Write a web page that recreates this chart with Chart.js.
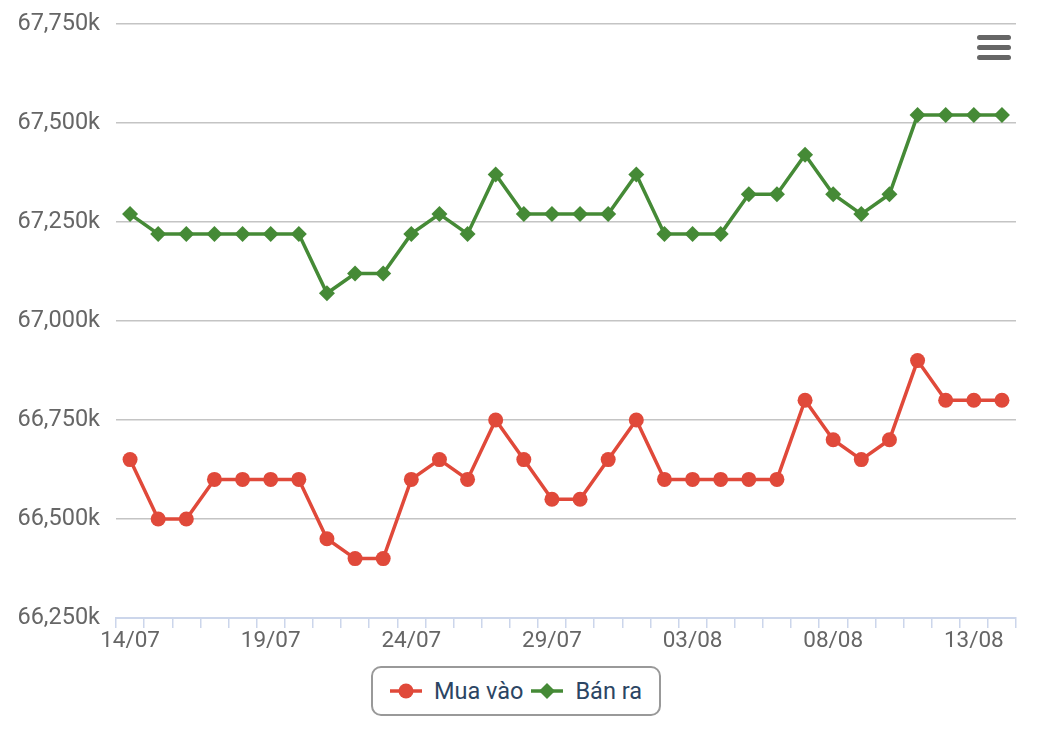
<!DOCTYPE html>
<html>
<head>
<meta charset="utf-8">
<script src="https://cdn.jsdelivr.net/npm/chart.js@4"></script>
<style>
  html, body { margin: 0; padding: 0; background: #fff; }
  #wrap { position: relative; width: 1048px; height: 734px; font-family: Roboto, sans-serif; }
  #chart-box { position: absolute; left: 0; top: 0; width: 1048px; height: 660px; }
  .menu { position: absolute; left: 977px; top: 35px; width: 34px; }
  .menu span { display: block; height: 5px; margin-bottom: 5px; border-radius: 3px; background: #666; }
  .legend {
    position: absolute; left: 371px; top: 666px; width: 286px; height: 46px;
    border: 2px solid #999; border-radius: 10px; box-sizing: content-box;
    display: flex; align-items: center; justify-content: center; gap: 8px;
  }
  .legend .item { display: flex; align-items: center; gap: 12px; color: #2b4563; font-size: 23.5px; }
</style>
</head>
<body>
<div id="wrap">
  <div id="chart-box"><canvas id="chart-price"></canvas></div>
  <div class="menu"><span></span><span></span><span></span></div>
  <div class="legend" id="legend"></div>
</div>
<script>
/* ── 데이터 ── */
const dates = [
  '14/07','15/07','16/07','17/07','18/07','19/07','20/07','21/07','22/07','23/07',
  '24/07','25/07','26/07','27/07','28/07','29/07','30/07','31/07','01/08','02/08',
  '03/08','04/08','05/08','06/08','07/08','08/08','09/08','10/08','11/08','12/08',
  '13/08','14/08'
];
const muaVao = [
  66650, 66500, 66500, 66600, 66600, 66600, 66600, 66450, 66400, 66400,
  66600, 66650, 66600, 66750, 66650, 66550, 66550, 66650, 66750, 66600,
  66600, 66600, 66600, 66600, 66800, 66700, 66650, 66700, 66900, 66800,
  66800, 66800
];
const banRa = [
  67270, 67220, 67220, 67220, 67220, 67220, 67220, 67070, 67120, 67120,
  67220, 67270, 67220, 67370, 67270, 67270, 67270, 67270, 67370, 67220,
  67220, 67220, 67320, 67320, 67420, 67320, 67270, 67320, 67520, 67520,
  67520, 67520
];
const yMin = 66250, yMax = 67750, yStep = 250;

const RED = '#e0493a';
const GREEN = '#458a36';

/* ── 범례 (HTML) ── */
function legendItem(label, color, shape) {
  const mark = shape === 'circle'
    ? `<circle cx="16" cy="9" r="7.5" fill="${color}"/>`
    : `<polygon points="16,1 24,9 16,17 8,9" fill="${color}"/>`;
  return `<div class="item"><svg width="32" height="18"><line x1="0" y1="9" x2="32" y2="9" stroke="${color}" stroke-width="3.5"/>${mark}</svg><span>${label}</span></div>`;
}
document.getElementById('legend').innerHTML =
  legendItem('Mua vào', RED, 'circle') + legendItem('Bán ra', GREEN, 'diamond');

/* ── 차트 ── */
Chart.defaults.font.family = "Roboto, 'Noto Sans', sans-serif";
Chart.defaults.color = '#666';

const ctx = document.getElementById('chart-price').getContext('2d');
new Chart(ctx, {
  type: 'line',
  data: {
    labels: dates,
    datasets: [
      {
        label: 'Mua vào',
        data: muaVao,
        borderColor: RED,
        backgroundColor: RED,
        borderWidth: 3.5,
        pointStyle: 'circle',
        pointRadius: 7.5,
        pointBorderWidth: 0,
        pointBackgroundColor: RED,
        tension: 0
      },
      {
        label: 'Bán ra',
        data: banRa,
        borderColor: GREEN,
        backgroundColor: GREEN,
        borderWidth: 3.5,
        pointStyle: 'rectRot',
        pointRadius: 8,
        pointBorderWidth: 0,
        pointBackgroundColor: GREEN,
        tension: 0
      }
    ]
  },
  options: {
    responsive: true,
    maintainAspectRatio: false,
    animation: false,
    layout: { padding: { top: 24, right: 32, left: 0, bottom: 0 } },
    plugins: {
      legend: { display: false },
      tooltip: { enabled: false }
    },
    scales: {
      x: {
        offset: true,
        afterFit: s => { s.height = 42; },
        grid: {
          offset: true,
          drawOnChartArea: false,
          drawTicks: true,
          tickLength: 10,
          color: '#ccd6eb',
          lineWidth: 1.5
        },
        border: { display: true, color: '#ccd6eb', width: 2 },
        ticks: {
          autoSkip: false,
          maxRotation: 0,
          padding: 0,
          color: '#666',
          font: { size: 22.5 },
          callback: (v, i) => (i % 5 === 0 ? dates[i] : '')
        }
      },
      y: {
        min: yMin,
        max: yMax,
        // 라벨 반높이 여백 제거 → 플롯 상단을 24px에 고정
        afterFit: s => { s.width = 116; s.paddingTop = 0; s.paddingBottom = 0; },
        grid: { color: '#c4c4c4', lineWidth: 1.5, drawTicks: false },
        border: { display: false },
        ticks: {
          stepSize: yStep,
          padding: 16,
          color: '#666',
          font: { size: 23.5 },
          callback: v => v.toLocaleString('en-US') + 'k'
        }
      }
    }
  }
});
</script>
</body>
</html>
